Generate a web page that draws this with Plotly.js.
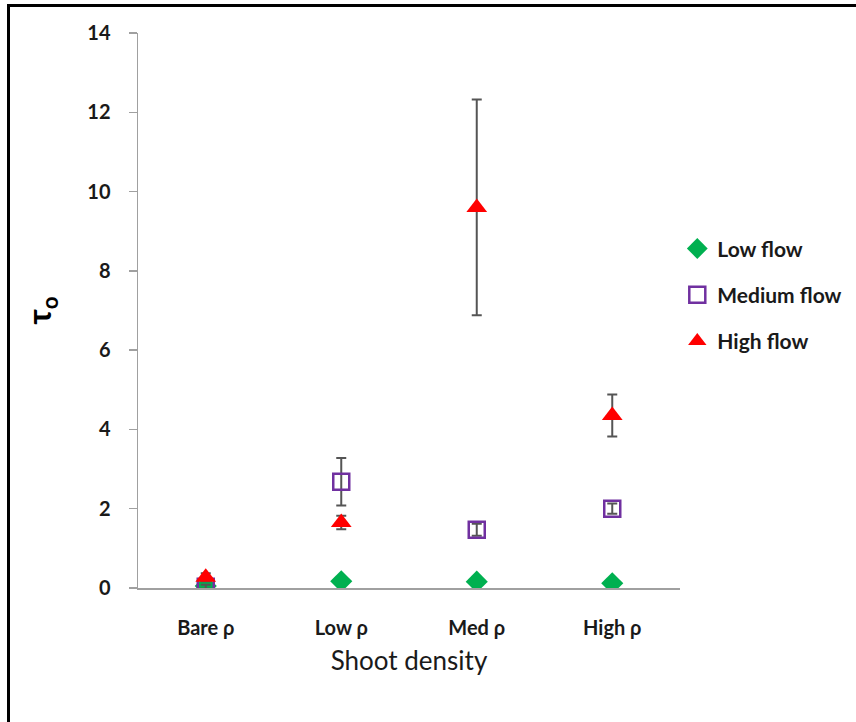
<!DOCTYPE html>
<html>
<head>
<meta charset="utf-8">
<script src="https://cdn.plot.ly/plotly-3.0.1.min.js"></script>
<style>
  html, body { margin: 0; padding: 0; background: #fff; }
  #wrap { position: relative; width: 856px; height: 722px; }
  #chart { width: 856px; height: 722px; }
  #frame { position: absolute; left: 7px; top: 4px; right: 0; bottom: 0;
           border-top: 3px solid #000; border-left: 3px solid #000; pointer-events: none; }
</style>
</head>
<body>
<div id="wrap">
  <div id="chart"></div>
  <div id="frame"></div>
</div>
<script>
const categories = ["Bare ρ", "Low ρ", "Med ρ", "High ρ"];
const lowFlow = [0.05, 0.17, 0.16, 0.12];
const mediumFlow = [0.03, 2.68, 1.47, 2.0];
const mediumErr = [0.05, 0.6, 0.15, 0.13];
const highFlow = [0.27, 1.65, 9.6, 4.35];
const highErr = [0.1, 0.17, 2.72, 0.53];
const yTicks = [0, 2, 4, 6, 8, 10, 12, 14];

const errStyle = { color: "#555555", thickness: 2, width: 5 };
const FONT = "Lato, Open Sans, Liberation Sans, sans-serif";

const traces = [
  {
    x: categories, y: lowFlow, name: "Low flow", type: "scatter", mode: "markers",
    legendgroup: "a",
    marker: { symbol: "diamond", size: 17, color: "#00b050" }
  },
  {
    x: categories, y: mediumFlow, name: "Medium flow", type: "scatter", mode: "markers",
    legendgroup: "b",
    error_y: Object.assign({ type: "data", array: mediumErr, visible: true }, errStyle),
    marker: { symbol: "square-open", size: 16, color: "#7030a0", line: { width: 2.5, color: "#7030a0" } }
  },
  {
    x: categories, y: highFlow, name: "High flow", type: "scatter", mode: "markers",
    legendgroup: "c",
    error_y: Object.assign({ type: "data", array: highErr, visible: true }, errStyle),
    marker: { symbol: "triangle-up", size: 18, color: "#ff0000" }
  }
];

const tickFont = { family: FONT, size: 20, color: "#1a1a1a", weight: "bold" };

const layout = {
  width: 856, height: 722,
  margin: { l: 138, r: 176, t: 33, b: 134, autoexpand: false },
  paper_bgcolor: "#ffffff", plot_bgcolor: "#ffffff",
  showlegend: true,
  legend: {
    x: 0.995, xanchor: "left", y: 0.648, yanchor: "top",
    font: { family: FONT, size: 21, color: "#1a1a1a", weight: "bold" },
    tracegroupgap: 16, bgcolor: "rgba(0,0,0,0)"
  },
  xaxis: {
    type: "category", range: [-0.5, 3.5],
    showline: true, linecolor: "#a0a0a0", linewidth: 1.5,
    showgrid: false, zeroline: false, ticks: "",
    tickfont: tickFont, ticklen: 0, ticklabelstandoff: 21,
    title: { text: "Shoot density", font: { family: FONT, size: 26, color: "#1a1a1a" }, standoff: 14 },
    fixedrange: true
  },
  yaxis: {
    range: [0, 14], tickvals: yTicks, ticktext: yTicks.map(String),
    showline: true, linecolor: "#a0a0a0", linewidth: 1.5,
    showgrid: false, zeroline: false,
    ticks: "outside", ticklen: 8, tickcolor: "#a0a0a0", tickwidth: 1.5,
    tickfont: tickFont, ticklabelstandoff: 14,
    title: { text: "τ<sub>o</sub>", font: { family: FONT, size: 32, color: "#000", weight: "bold" }, standoff: 26 },
    fixedrange: true
  }
};

Plotly.newPlot("chart", traces, layout, { displayModeBar: false, staticPlot: true });
</script>
</body>
</html>
